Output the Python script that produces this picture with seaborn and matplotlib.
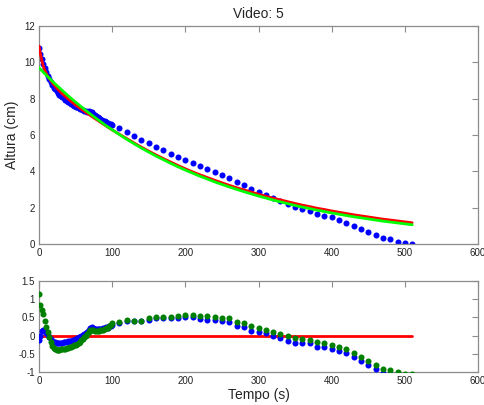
import numpy as np
import matplotlib
matplotlib.use("Agg")
import matplotlib.pyplot as plt
import seaborn as sns

# ---------------- data ----------------
title = "Video: 5"
xlabel = "Tempo (s)"
ylabel = "Altura (cm)"

# measured heights (blue): dense part 0..100 s, then every 10 s
t_dense = list(range(0, 101, 2))
h_dense = [10.78, 10.45, 10.20, 9.93, 9.68, 9.45, 9.26, 9.06, 8.90, 8.75,
           8.61, 8.51, 8.40, 8.32, 8.22, 8.15, 8.07, 8.02, 7.94, 7.88,
           7.82, 7.76, 7.71, 7.66, 7.61, 7.56, 7.52, 7.48, 7.45, 7.41,
           7.38, 7.34, 7.31, 7.29, 7.30, 7.29, 7.26, 7.18, 7.11, 7.04,
           6.99, 6.93, 6.88, 6.84, 6.79, 6.76, 6.72, 6.66, 6.63, 6.60, 6.57]
t_sparse = list(range(110, 511, 10))
h_sparse = [6.37, 6.16, 5.94, 5.71, 5.54, 5.36, 5.17, 4.97, 4.79, 4.62,
            4.47, 4.28, 4.11, 3.96, 3.78, 3.62, 3.41, 3.25, 3.01, 2.85,
            2.68, 2.53, 2.35, 2.18, 2.02, 1.93, 1.82, 1.67, 1.56, 1.47,
            1.32, 1.17, 1.01, 0.84, 0.64, 0.50, 0.35, 0.26, 0.13, 0.06, 0.00]

# fit curves
t_red = [0, 2, 4, 6, 8, 10, 13, 16, 20, 25, 30, 40, 50, 60, 70, 80, 90, 100,
         110, 120, 130, 140, 150, 160, 170, 180, 190, 200, 210, 220, 230, 240,
         250, 260, 270, 280, 290, 300, 310, 320, 330, 340, 350, 360, 370, 380,
         390, 400, 410, 420, 430, 440, 450, 460, 470, 480, 490, 500, 510]
h_red = [10.90, 10.45, 10.08, 9.78, 9.55, 9.38, 9.17, 9.00, 8.78, 8.55, 8.34,
         7.98, 7.65, 7.36, 7.08, 6.81, 6.54, 6.28, 6.04, 5.80, 5.56, 5.33,
         5.11, 4.90, 4.70, 4.51, 4.32, 4.14, 3.97, 3.81, 3.66, 3.51, 3.37,
         3.23, 3.10, 2.98, 2.86, 2.74, 2.63, 2.52, 2.43, 2.33, 2.23, 2.14,
         2.06, 1.97, 1.90, 1.82, 1.75, 1.68, 1.61, 1.55, 1.49, 1.43, 1.37,
         1.32, 1.27, 1.22, 1.17]
t_green = list(range(0, 511, 10))
h_green = [9.70, 9.29, 8.89, 8.52, 8.15, 7.81, 7.48, 7.16, 6.86, 6.56, 6.29,
           6.02, 5.76, 5.52, 5.28, 5.06, 4.84, 4.64, 4.44, 4.25, 4.07, 3.90,
           3.73, 3.58, 3.42, 3.28, 3.14, 3.01, 2.88, 2.76, 2.64, 2.53, 2.42,
           2.32, 2.22, 2.12, 2.03, 1.95, 1.86, 1.79, 1.71, 1.64, 1.57, 1.50,
           1.44, 1.38, 1.32, 1.26, 1.21, 1.16, 1.11, 1.06]

# residuals (lower panel)
res_blue_dense = [-0.12, 0.00, 0.12, 0.15, 0.13, 0.07, 0.02, -0.05, -0.10, -0.14,
                  -0.17, -0.18, -0.19, -0.19, -0.20, -0.19, -0.20, -0.18, -0.18, -0.17,
                  -0.16, -0.15, -0.14, -0.12, -0.11, -0.09, -0.07, -0.05, -0.03, -0.01,
                  0.02, 0.04, 0.06, 0.10, 0.16, 0.21, 0.23, 0.21, 0.19, 0.18,
                  0.18, 0.17, 0.18, 0.19, 0.20, 0.22, 0.23, 0.22, 0.25, 0.27, 0.29]
res_green_dense = [1.14, 0.85, 0.70, 0.58, 0.40, 0.24, 0.10, -0.05, -0.17, -0.28,
                   -0.35, -0.38, -0.40, -0.40, -0.40, -0.38, -0.38, -0.37, -0.36, -0.35,
                   -0.34, -0.32, -0.31, -0.29, -0.27, -0.25, -0.22, -0.19, -0.17, -0.13,
                   -0.09, -0.05, 0.00, 0.05, 0.10, 0.14, 0.15, 0.14, 0.13, 0.13,
                   0.13, 0.13, 0.14, 0.15, 0.16, 0.18, 0.20, 0.21, 0.25, 0.29, 0.34]
res_blue_sparse = [0.34, 0.41, 0.39, 0.40, 0.44, 0.47, 0.47, 0.47, 0.47, 0.50,
                   0.50, 0.45, 0.44, 0.42, 0.39, 0.37, 0.27, 0.24, 0.13, 0.11,
                   0.06, 0.00, -0.07, -0.14, -0.19, -0.21, -0.21, -0.30, -0.32, -0.37,
                   -0.41, -0.49, -0.58, -0.70, -0.81, -0.92, -1.02, -1.06, -1.14, -1.16, -1.17]
res_green_sparse = [0.37, 0.43, 0.40, 0.41, 0.47, 0.52, 0.52, 0.52, 0.54, 0.57,
                    0.57, 0.55, 0.54, 0.52, 0.49, 0.47, 0.37, 0.35, 0.25, 0.22,
                    0.15, 0.11, 0.04, -0.01, -0.07, -0.10, -0.12, -0.18, -0.19, -0.26,
                    -0.32, -0.38, -0.47, -0.60, -0.70, -0.81, -0.92, -0.95, -0.99, -1.05, -1.06]
zero_t = [0, 510]
zero_v = [0, 0]

xticks = [0, 100, 200, 300, 400, 500, 600]
yticks_top = [0, 2, 4, 6, 8, 10, 12]
yticks_bot = [-1, -0.5, 0, 0.5, 1, 1.5]
yticklabels_bot = ["-1", "-0.5", "0", "0.5", "1", "1.5"]

# ---------------- style ----------------
sns.set_style("white")
plt.rcParams["font.family"] = ["Liberation Sans", "DejaVu Sans"]

BLUE = "#0000ff"
GREEN_DOT = "#008000"
RED = "#ff0000"
GREEN_LINE = "#00ff00"
SPINE = "#8c8c8c"

fig = plt.figure(figsize=(4.85, 4.05), dpi=100)
ax1 = fig.add_axes([0.0804, 0.3975, 0.9052, 0.5383])
ax2 = fig.add_axes([0.0804, 0.0815, 0.9052, 0.2247])

t_all = t_dense + t_sparse
h_all = h_dense + h_sparse

sns.scatterplot(x=t_all, y=h_all, ax=ax1, color=BLUE, s=19, linewidth=0, zorder=2)
sns.lineplot(x=t_red, y=h_red, ax=ax1, color=RED, lw=2.0, sort=False,
             estimator=None, zorder=3)
sns.lineplot(x=t_green, y=h_green, ax=ax1, color=GREEN_LINE, lw=2.0, sort=False,
             estimator=None, zorder=3)

sns.lineplot(x=zero_t, y=zero_v, ax=ax2, color=RED, lw=2.0, sort=False,
             estimator=None, zorder=2)
sns.scatterplot(x=t_all, y=res_blue_dense + res_blue_sparse, ax=ax2, color=BLUE,
                s=19, linewidth=0, zorder=3)
sns.scatterplot(x=t_all, y=res_green_dense + res_green_sparse, ax=ax2,
                color=GREEN_DOT, s=19, linewidth=0, zorder=4)

for ax in (ax1, ax2):
    ax.set_xlim(0, 600)
    ax.set_xticks(xticks)
    ax.set_xticklabels([str(v) for v in xticks])
    ax.tick_params(direction="in", length=4, width=0.8, color=SPINE,
                   labelsize=7, top=True, right=True, pad=3, labelcolor="#222222")
    for sp in ax.spines.values():
        sp.set_color(SPINE)
        sp.set_linewidth(0.9)
        sp.set_visible(True)
    ax.set_xlabel("")
    ax.set_ylabel("")

ax1.set_ylim(0, 12)
ax1.set_yticks(yticks_top)
ax1.set_yticklabels([str(v) for v in yticks_top])
ax1.set_title(title, fontsize=10, pad=6)
ax1.set_ylabel(ylabel, fontsize=10, labelpad=4)

ax2.set_ylim(-1, 1.5)
ax2.set_yticks(yticks_bot)
ax2.set_yticklabels(yticklabels_bot)
ax2.set_xlabel(xlabel, fontsize=10, labelpad=1)

fig.savefig("out.png", dpi=100)
